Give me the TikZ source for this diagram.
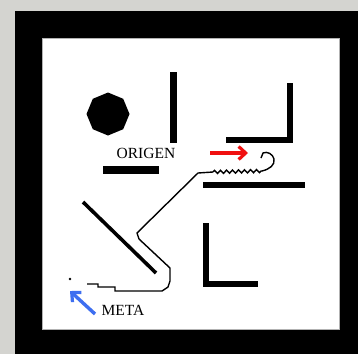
\documentclass[tikz,border=0pt]{standalone}
\usepackage{fontspec}
\setmainfont{Liberation Serif}
\usetikzlibrary{decorations.pathmorphing,shapes.geometric,arrows.meta}
\definecolor{wingray}{HTML}{D4D4D0}
\definecolor{redarrow}{HTML}{F01010}
\definecolor{bluearrow}{HTML}{3D6EF0}
\tikzset{
  wall/.style={fill=black},
  trace/.style={draw=black,line width=1.4pt,line join=miter},
  lbl/.style={font=\fontsize{15.5}{16}\selectfont,inner sep=0pt,anchor=base west},
  pointer/.style={line width=3.4pt,-{Straight Barb[length=7pt,width=13pt,line width=3.2pt]}}
}
\begin{document}
\begin{tikzpicture}[x=1pt,y=-1pt]
\useasboundingbox (0,0) rectangle (358,354);
\fill[wingray] (0,0) rectangle (358,354);
\fill[black] (15,11) rectangle (358,354);
\fill[white,draw=gray!60,line width=0.6pt] (42,38) rectangle (339,329);
% obstacles
\node[regular polygon,regular polygon sides=8,minimum size=43pt,fill=black,inner sep=0pt,shape border rotate=22.5] (octa) at (108,114) {};
\fill[wall] (170,72) rectangle (177,143);
\fill[wall] (103,166) rectangle (159,174);
\fill[wall] (287,83) rectangle (293,143);
\fill[wall] (226,137) rectangle (293,143);
\fill[wall] (203,182) rectangle (305,188);
\fill[wall] (203,223) rectangle (209,287);
\fill[wall] (203,281) rectangle (258,287);
\draw[line width=3.6pt] (83,202) -- (156,273);
% path
\coordinate (pstart) at (87,284);
\coordinate (wstart) at (213,172);
\coordinate (wend) at (262,171);
\draw[trace] (pstart) -- (98,284) -- (98,287) -- (115,287) -- (115,291) -- (162,291) -- (168,287) -- (170,281) -- (170,268) -- (139,239) -- (137,233) -- (198,173) -- (wstart);
\draw[trace,decorate,decoration={zigzag,segment length=6pt,amplitude=1.6pt}] (wstart) -- (wend);
\draw[trace] (wend) .. controls (270,169) and (275,165) .. (274,159) .. controls (273,154) and (267,151) .. (263,153) -- (261,158);
\fill (70,279) circle (1.3);
% labels and pointers
\node[lbl] (origen) at (116.5,158) {ORIGEN};
\node[lbl] (meta) at (101.5,315) {META};
\coordinate (rtail) at (210,153);
\coordinate (rhead) at (248,153);
\draw[pointer,redarrow] (rtail) -- (rhead);
\coordinate (btail) at (95,314);
\coordinate (bhead) at (70,291);
\draw[pointer,bluearrow] (btail) -- (bhead);
\end{tikzpicture}
\end{document}
